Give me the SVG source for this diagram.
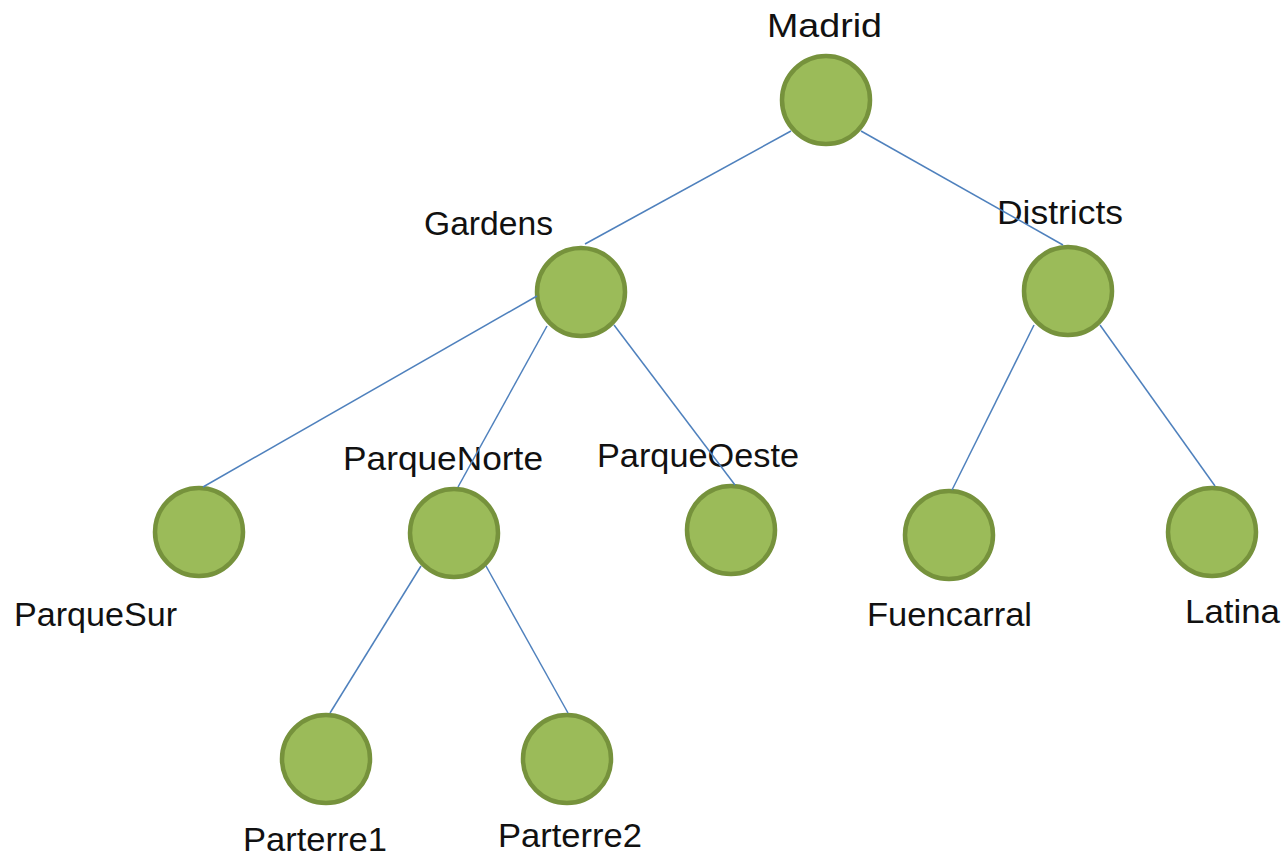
<svg xmlns="http://www.w3.org/2000/svg" width="1286" height="857" viewBox="0 0 1286 857">
<style>
.n{fill:#9BBB59;stroke:#76923C;stroke-width:4.5}
.t{font-family:"Liberation Sans",Arial,sans-serif;font-size:34px;fill:#111}
.c line{stroke:#4F81BD;stroke-width:1.5}
</style>
<rect width="1286" height="857" fill="#fff"/>
<g id="nodes">
<g id="madrid"><circle class="n" cx="826" cy="100" r="44"/><text class="t" x="767" y="37" textLength="115" lengthAdjust="spacingAndGlyphs">Madrid</text></g>
<g id="gardens"><circle class="n" cx="581" cy="292" r="44"/><text class="t" x="424" y="235" textLength="129" lengthAdjust="spacingAndGlyphs">Gardens</text></g>
<g id="districts"><circle class="n" cx="1068" cy="291" r="44"/><text class="t" x="997" y="224" textLength="126" lengthAdjust="spacingAndGlyphs">Districts</text></g>
<g id="parquesur"><circle class="n" cx="199" cy="532" r="44"/><text class="t" x="14" y="626" textLength="163" lengthAdjust="spacingAndGlyphs">ParqueSur</text></g>
<g id="parquenorte"><circle class="n" cx="454" cy="533" r="44"/><text class="t" x="343" y="470" textLength="200" lengthAdjust="spacingAndGlyphs">ParqueNorte</text></g>
<g id="parqueoeste"><circle class="n" cx="731" cy="530" r="44"/><text class="t" x="597" y="467" textLength="202" lengthAdjust="spacingAndGlyphs">ParqueOeste</text></g>
<g id="fuencarral"><circle class="n" cx="949" cy="535" r="44"/><text class="t" x="867" y="626" textLength="165" lengthAdjust="spacingAndGlyphs">Fuencarral</text></g>
<g id="latina"><circle class="n" cx="1212" cy="532" r="44"/><text class="t" x="1185" y="623" textLength="95" lengthAdjust="spacingAndGlyphs">Latina</text></g>
<g id="parterre1"><circle class="n" cx="326" cy="759" r="44"/><text class="t" x="243" y="851" textLength="144" lengthAdjust="spacingAndGlyphs">Parterre1</text></g>
<g id="parterre2"><circle class="n" cx="567" cy="759" r="44"/><text class="t" x="498" y="847" textLength="144" lengthAdjust="spacingAndGlyphs">Parterre2</text></g>
</g>
<g id="connectors" class="c">
<line x1="791" y1="131" x2="585" y2="244"/>
<line x1="861" y1="131" x2="1063" y2="245"/>
<line x1="537" y1="296" x2="203" y2="487"/>
<line x1="547" y1="326" x2="458" y2="487"/>
<line x1="614" y1="325" x2="735" y2="485"/>
<line x1="421" y1="566" x2="330" y2="713"/>
<line x1="486" y1="566" x2="568" y2="713"/>
<line x1="1034" y1="325" x2="952" y2="490"/>
<line x1="1100" y1="325" x2="1215" y2="486"/>
</g>
</svg>
